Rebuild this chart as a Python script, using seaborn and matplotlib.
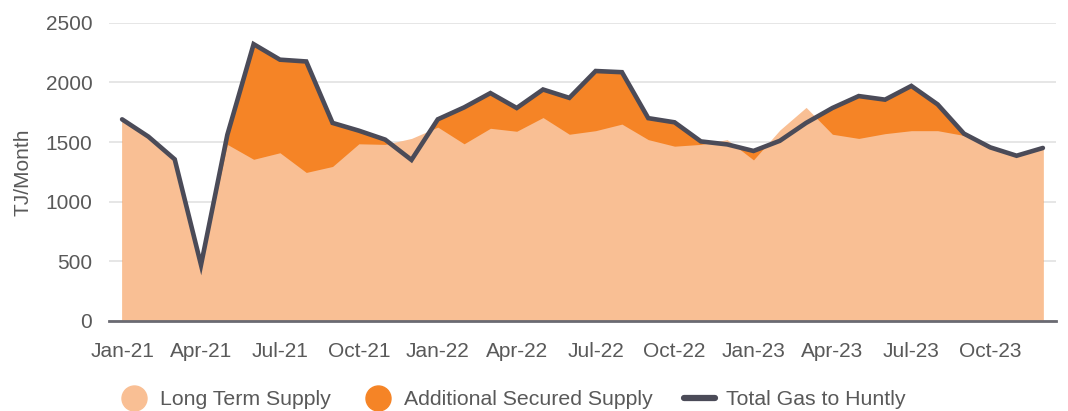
import matplotlib
matplotlib.use("Agg")
import matplotlib.pyplot as plt
from matplotlib.lines import Line2D
import seaborn as sns
import pandas as pd
import numpy as np

months = ["Jan-21","Feb-21","Mar-21","Apr-21","May-21","Jun-21","Jul-21","Aug-21","Sep-21","Oct-21","Nov-21","Dec-21",
          "Jan-22","Feb-22","Mar-22","Apr-22","May-22","Jun-22","Jul-22","Aug-22","Sep-22","Oct-22","Nov-22","Dec-22",
          "Jan-23","Feb-23","Mar-23","Apr-23","May-23","Jun-23","Jul-23","Aug-23","Sep-23","Oct-23","Nov-23","Dec-23"]
long_term = [1690,1545,1355,470,1480,1355,1410,1245,1295,1485,1480,1530,
             1625,1485,1615,1590,1705,1565,1595,1650,1520,1465,1480,1520,
             1350,1600,1790,1565,1530,1570,1595,1595,1555,1455,1385,1440]
total = [1690,1545,1355,470,1560,2320,2190,2175,1660,1595,1520,1350,
         1690,1790,1910,1785,1940,1870,2095,2085,1700,1665,1505,1480,
         1425,1510,1660,1785,1885,1855,1970,1815,1570,1455,1385,1450]
yticks = [0, 500, 1000, 1500, 2000, 2500]

C_LIGHT = "#F9BF94"
C_ORANGE = "#F58426"
C_LINE = "#4B4B58"
C_TEXT = "#595959"

sns.set_theme(style="white")
plt.rcParams["font.family"] = ["Liberation Sans", "DejaVu Sans"]

df = pd.DataFrame({"month": months, "x": np.arange(len(months)),
                   "long": long_term, "total": total})

fig = plt.figure(figsize=(10.68, 4.11), dpi=100)
ax = fig.add_axes([0.102, 0.219, 0.8868, 0.7258])

# Additional secured supply: the band between long-term supply and the total
ax.fill_between(df["x"], 0, df["total"], color=C_ORANGE, linewidth=0, zorder=2)
ax.fill_between(df["x"], 0, df["long"], color=C_LIGHT, linewidth=0, zorder=2.5)
sns.lineplot(data=df, x="x", y="total", ax=ax, color=C_LINE, linewidth=3.3, zorder=3,
             solid_joinstyle="miter")

ax.set_xlim(-0.5, len(months) - 0.5)
ax.set_ylim(0, 2500)
ax.set_yticks(yticks)
ax.set_yticklabels([str(v) for v in yticks])
ax.set_xticks(df["x"][::3])
ax.set_xticklabels(df["month"][::3])
ax.tick_params(axis="both", length=0, labelsize=15, labelcolor=C_TEXT)
ax.tick_params(axis="x", pad=15)
ax.tick_params(axis="y", pad=12)
ax.grid(axis="y", color="#E2E2E2", linewidth=1.2, zorder=0)
ax.set_axisbelow(True)
for s in ["top", "right", "left"]:
    ax.spines[s].set_visible(False)
ax.spines["bottom"].set_color("#6A6A72")
ax.spines["bottom"].set_linewidth(2)
ax.spines["bottom"].set_zorder(5)
ax.set_xlabel("")
ax.set_ylabel("TJ/Month", fontsize=15, color=C_TEXT, labelpad=9)

handles = [
    Line2D([], [], marker="o", linestyle="none", markersize=18, markerfacecolor=C_LIGHT, markeredgecolor=C_LIGHT),
    Line2D([], [], marker="o", linestyle="none", markersize=18, markerfacecolor=C_ORANGE, markeredgecolor=C_ORANGE),
    Line2D([], [], color=C_LINE, linewidth=4.5),
]
labels = ["Long Term Supply", "Additional Secured Supply", "Total Gas to Huntly"]
leg = fig.legend(handles, labels, loc="center", bbox_to_anchor=(0.479, 0.027), ncol=3, frameon=False,
                 fontsize=15.3, handlelength=1.5, handletextpad=0.5, columnspacing=1.45)
for t in leg.get_texts():
    t.set_color(C_TEXT)

fig.savefig("out.png", dpi=100)
